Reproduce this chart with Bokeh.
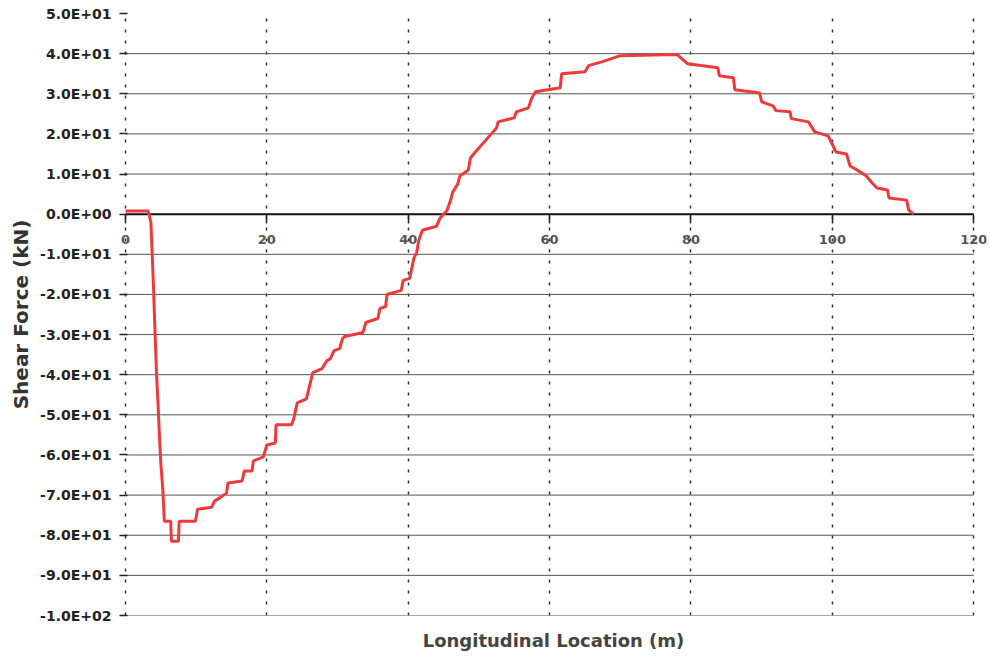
from bokeh.plotting import figure
from bokeh.models import Range1d, FixedTicker, Title
from bokeh.embed import file_html
from bokeh.resources import INLINE

# Longitudinal station (m) and shear force (kN)
station_m = [0.0, 3.2, 3.6, 3.9, 4.2, 4.4, 4.6, 4.8, 5.0, 5.3, 5.5, 6.4, 6.5, 7.5, 7.6,
             9.9, 10.2, 12.2, 12.6, 13.5, 14.3, 14.5, 16.5, 16.8, 17.9, 18.1, 19.5, 20.0,
             21.2, 21.3, 23.5, 23.8, 24.3, 25.6, 26.5, 27.8, 28.5, 29.0, 29.5, 30.3, 30.7,
             31.0, 33.6, 34.0, 35.7, 36.0, 36.8, 37.0, 39.0, 39.3, 40.2, 40.8, 41.2, 41.5,
             42.0, 44.0, 44.5, 45.5, 46.0, 46.3, 47.0, 47.3, 48.5, 48.8, 49.5, 52.5, 52.7,
             55.0, 55.3, 57.0, 57.5, 58.0, 61.5, 61.7, 65.0, 65.5, 67.5, 70.0, 78.0, 79.5,
             83.8, 84.0, 86.0, 86.2, 89.7, 90.0, 91.6, 92.0, 94.0, 94.2, 96.6, 97.5, 99.4,
             100.5, 102.0, 102.5, 103.5, 104.8, 105.5, 106.3, 107.8, 108.0, 110.5, 110.8,
             111.5]
shear_kN = [0.8, 0.8, -2.0, -15.0, -30.0, -40.0, -47.0, -55.0, -62.0, -69.0, -76.5, -76.5,
            -81.5, -81.5, -76.5, -76.5, -73.5, -73.0, -71.5, -70.5, -69.5, -67.0, -66.5,
            -64.0, -64.0, -61.5, -60.5, -57.5, -57.0, -52.5, -52.5, -51.0, -47.0, -46.0,
            -39.5, -38.5, -36.5, -36.0, -34.0, -33.5, -31.0, -30.5, -29.5, -27.0, -26.0,
            -23.5, -23.0, -20.0, -19.0, -16.5, -16.0, -11.0, -9.5, -6.5, -4.0, -3.0, -1.0,
            1.0, 3.5, 5.5, 7.5, 9.5, 11.0, 14.0, 15.5, 21.5, 23.0, 24.0, 25.5, 26.5, 29.0,
            30.5, 31.5, 35.0, 35.5, 37.0, 38.0, 39.5, 39.8, 37.5, 36.5, 34.5, 34.0, 31.0,
            30.2, 28.0, 27.0, 25.8, 25.5, 23.8, 23.0, 20.5, 19.5, 15.5, 15.0, 12.0, 11.0,
            9.5, 8.0, 6.5, 6.0, 4.0, 3.5, 1.0, 0.0]

x_ticks = [0, 20, 40, 60, 80, 100, 120]
y_ticks = [50, 40, 30, 20, 10, 0, -10, -20, -30, -40, -50, -60, -70, -80, -90, -100]
y_tick_labels = ["5.0E+01", "4.0E+01", "3.0E+01", "2.0E+01", "1.0E+01", "0.0E+00",
                 "-1.0E+01", "-2.0E+01", "-3.0E+01", "-4.0E+01", "-5.0E+01", "-6.0E+01",
                 "-7.0E+01", "-8.0E+01", "-9.0E+01", "-1.0E+02"]
y_grid_ticks = [40, 30, 20, 10, -10, -20, -30, -40, -50, -60, -70, -80, -90, -100]
baseline = [0]

FONT = "DejaVu Sans"

# a small pad on the x range keeps the end tick labels "0" and "120" unclipped
p = figure(width=988, height=662, output_backend="svg", toolbar_location=None,
           x_range=Range1d(x_ticks[0] - 0.7, x_ticks[-1] + 1.8), y_range=Range1d(-100, 50),
           min_border_left=120, min_border_right=2, min_border_top=13,
           min_border_bottom=45)
p.outline_line_color = None
p.background_fill_color = "white"
p.border_fill_color = "white"

# vertical dashed grid
p.xgrid.ticker = FixedTicker(ticks=x_ticks)
p.xgrid.grid_line_color = "#333333"
p.xgrid.grid_line_width = 1.5
p.xgrid.grid_line_dash = "3 8"

# horizontal grid lines spanning 0..120 only
p.ygrid.visible = False
n = len(y_grid_ticks)
p.segment(x0=[x_ticks[0]] * n, x1=[x_ticks[-1]] * n, y0=y_grid_ticks, y1=y_grid_ticks,
          line_color="#555555", line_width=1)
# zero line (x axis line)
p.segment(x0=[x_ticks[0]], x1=[x_ticks[-1]], y0=baseline, y1=baseline,
          line_color="#111111", line_width=2)

# x axis ticks and labels drawn through y = 0
xa = p.xaxis[0]
xa.fixed_location = 0
xa.ticker = FixedTicker(ticks=x_ticks)
xa.minor_tick_line_color = None
xa.axis_line_color = None
xa.major_tick_line_color = "#222222"
xa.major_tick_line_width = 1.5
xa.major_tick_out = 9
xa.major_tick_in = 0
xa.major_label_standoff = 12
xa.major_label_text_font = FONT
xa.major_label_text_font_style = "bold"
xa.major_label_text_font_size = "13px"
xa.major_label_text_color = "#555555"

p.add_layout(Title(text="Longitudinal Location (m)", align="center",
                   text_font=FONT, text_font_style="bold", text_font_size="18px",
                   text_color="#444444", standoff=24), "below")

# y axis
ya = p.yaxis[0]
ya.ticker = FixedTicker(ticks=y_ticks)
ya.major_label_overrides = {v: s for v, s in zip(y_ticks, y_tick_labels)}
ya.minor_tick_line_color = None
ya.axis_line_color = None
ya.major_tick_line_color = "#222222"
ya.major_tick_line_width = 1.5
ya.major_tick_out = 1
ya.major_tick_in = 7
ya.major_label_standoff = 8
ya.major_label_text_font = FONT
ya.major_label_text_font_style = "bold"
ya.major_label_text_font_size = "14px"
ya.major_label_text_color = "#222222"
ya.axis_label = "Shear Force (kN)"
ya.axis_label_text_font = FONT
ya.axis_label_text_font_style = "bold"
ya.axis_label_text_font_size = "20px"
ya.axis_label_text_color = "#333333"
ya.axis_label_standoff = 4

p.line(station_m, shear_kN, line_color="#f03a3a", line_width=3)

open("out.html", "w").write(file_html(p, INLINE))
